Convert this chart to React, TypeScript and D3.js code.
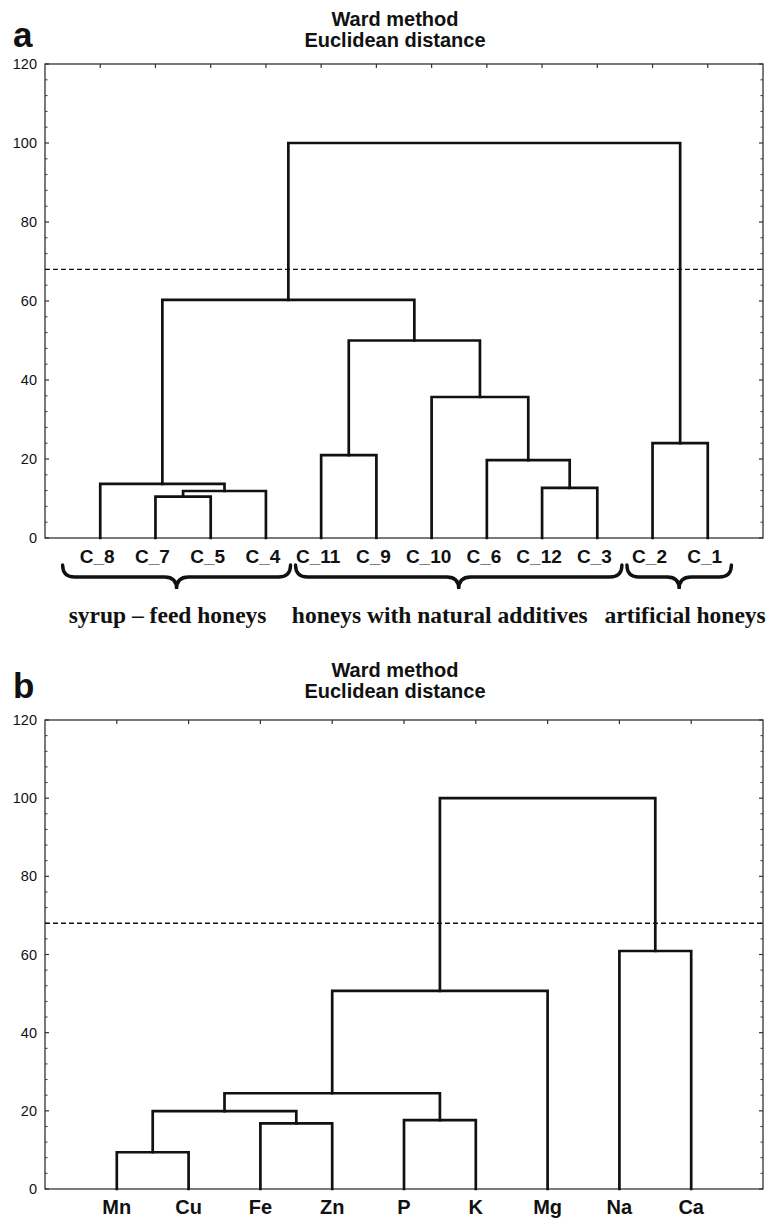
import React from 'react';
import * as d3 from 'd3';

// ---------- data ----------
const leavesA = ['C_8', 'C_7', 'C_5', 'C_4', 'C_11', 'C_9', 'C_10', 'C_6', 'C_12', 'C_3', 'C_2', 'C_1'];
// merges: [left, right, height]; 'mN' refers to the N-th merge
const mergesA: [string, string, number][] = [
  ['C_7', 'C_5', 10.5],
  ['m0', 'C_4', 11.9],
  ['C_8', 'm1', 13.7],
  ['C_12', 'C_3', 12.7],
  ['C_6', 'm3', 19.7],
  ['C_10', 'm4', 35.7],
  ['C_11', 'C_9', 21.0],
  ['m6', 'm5', 50.0],
  ['m2', 'm7', 60.3],
  ['C_2', 'C_1', 24.0],
  ['m8', 'm9', 100],
];
const groupLabelsA = ['syrup \u2013 feed honeys', 'honeys with natural additives', 'artificial honeys'];
const groupFirstA = ['C_8', 'C_11', 'C_2'];
const groupLastA = ['C_4', 'C_3', 'C_1'];

const leavesB = ['Mn', 'Cu', 'Fe', 'Zn', 'P', 'K', 'Mg', 'Na', 'Ca'];
const mergesB: [string, string, number][] = [
  ['Mn', 'Cu', 9.4],
  ['Fe', 'Zn', 16.8],
  ['P', 'K', 17.6],
  ['m0', 'm1', 19.9],
  ['m3', 'm2', 24.5],
  ['m4', 'Mg', 50.7],
  ['Na', 'Ca', 60.9],
  ['m5', 'm6', 100],
];

const yTicks = [0, 20, 40, 60, 80, 100, 120];
const cutLevel = 68;
const titleLines = ['Ward method', 'Euclidean distance'];

// ---------- layout ----------
const W = 784;
const H = 1220;
const plotLeft = 45;
const plotRight = 763;
const bracePadL = [-10, 2, 2];
const bracePadR = [3, 3, 4];
const groupTextDx = [-9, -19, 6];

type PanelProps = {
  letter: string;
  leaves: string[];
  merges: [string, string, number][];
  top: number;
  bottom: number;
  titleY: number;
  labelFont: string;
  labelSize: number;
  labelDx: number;
  labelDy: number;
  groups?: boolean;
};

function Panel(p: PanelProps) {
  const n = p.leaves.length;
  const x = d3.scaleLinear().domain([0, n + 1]).range([plotLeft, plotRight]);
  const y = d3.scaleLinear().domain([0, 120]).range([p.bottom, p.top]);
  const pos: Record<string, { x: number; h: number }> = {};
  p.leaves.forEach((l, i) => (pos[l] = { x: x(i + 1), h: 0 }));
  const segs: string[] = [];
  p.merges.forEach(([a, b, h], i) => {
    const A = pos[a];
    const B = pos[b];
    const path = d3.path();
    path.moveTo(A.x, y(A.h));
    path.lineTo(A.x, y(h));
    path.lineTo(B.x, y(h));
    path.lineTo(B.x, y(B.h));
    segs.push(path.toString());
    pos['m' + i] = { x: (A.x + B.x) / 2, h };
  });
  const minor = d3.range(0, 121, 4).filter((v) => v % 20 !== 0);
  const cx = (plotLeft + plotRight) / 2 - 9;
  const sans = "'Liberation Sans', Arial, sans-serif";

  return (
    <g>
      <text x={cx} y={p.titleY} textAnchor="middle" fontFamily={sans} fontWeight="bold" fontSize={20} fill="#111">
        {titleLines[0]}
      </text>
      <text x={cx} y={p.titleY + 21} textAnchor="middle" fontFamily={sans} fontWeight="bold" fontSize={20} fill="#111">
        {titleLines[1]}
      </text>
      <text x={13} y={p.titleY + 21} fontFamily={sans} fontWeight="bold" fontSize={35} fill="#111">
        {p.letter}
      </text>
      {/* frame */}
      <rect x={plotLeft} y={p.top} width={plotRight - plotLeft} height={p.bottom - p.top} fill="none" stroke="#333" strokeWidth={1.3} />
      {/* y ticks */}
      {yTicks.map((v) => (
        <g key={'t' + v}>
          <line x1={plotLeft} x2={plotLeft + 4} y1={y(v)} y2={y(v)} stroke="#333" strokeWidth={1.2} />
          <line x1={plotRight} x2={plotRight - 4} y1={y(v)} y2={y(v)} stroke="#333" strokeWidth={1.2} />
          <text x={plotLeft - 8} y={y(v)} dy="0.35em" textAnchor="end" fontFamily={sans} fontSize={14.5} fill="#111">
            {v}
          </text>
        </g>
      ))}
      {minor.map((v) => (
        <g key={'m' + v}>
          <line x1={plotLeft} x2={plotLeft + 2.5} y1={y(v)} y2={y(v)} stroke="#333" strokeWidth={1} />
          <line x1={plotRight} x2={plotRight - 2.5} y1={y(v)} y2={y(v)} stroke="#333" strokeWidth={1} />
        </g>
      ))}
      {/* x ticks */}
      {p.leaves.map((l, i) => (
        <g key={'x' + l}>
          <line x1={x(i + 1)} x2={x(i + 1)} y1={p.top} y2={p.top + 4} stroke="#333" strokeWidth={1.2} />
          <line x1={x(i + 1)} x2={x(i + 1)} y1={p.bottom} y2={p.bottom - 4} stroke="#333" strokeWidth={1.2} />
        </g>
      ))}
      {/* cut line */}
      <line x1={plotLeft} x2={plotRight} y1={y(cutLevel)} y2={y(cutLevel)} stroke="#111" strokeWidth={1.3} strokeDasharray="5,3" />
      {/* dendrogram */}
      {segs.map((d, i) => (
        <path key={'s' + i} d={d} fill="none" stroke="#111" strokeWidth={2.7} strokeLinejoin="miter" strokeLinecap="square" />
      ))}
      {/* leaf labels */}
      {p.leaves.map((l, i) => (
        <text key={'l' + l} x={x(i + 1) + p.labelDx} y={p.bottom + p.labelDy} textAnchor="middle" fontFamily={p.labelFont} fontWeight="bold" fontSize={p.labelSize} fill="#111">
          {l}
        </text>
      ))}
      {p.groups &&
        groupLabelsA.map((g, gi) => {
          const i0 = p.leaves.indexOf(groupFirstA[gi]) + 1;
          const i1 = p.leaves.indexOf(groupLastA[gi]) + 1;
          const x0 = x(i0 - 0.5) + bracePadL[gi];
          const x1 = x(i1 + 0.5) - bracePadR[gi];
          const xm = (x0 + x1) / 2;
          const y0 = p.bottom + 27;
          const hh = 24;
          const q = 12;
          const ym = y0 + 12;
          const d =
            `M${x0},${y0} Q${x0},${ym} ${x0 + q},${ym} L${xm - q},${ym} ` +
            `Q${xm},${ym} ${xm},${y0 + hh} Q${xm},${ym} ${xm + q},${ym} ` +
            `L${x1 - q},${ym} Q${x1},${ym} ${x1},${y0}`;
          return (
            <g key={'g' + gi}>
              <path d={d} fill="none" stroke="#111" strokeWidth={3.4} strokeLinecap="round" />
              <text x={xm + groupTextDx[gi]} y={p.bottom + 85} textAnchor="middle" fontFamily="'Liberation Serif', 'Times New Roman', serif" fontWeight="bold" fontSize={23.5} fill="#111">
                {g}
              </text>
            </g>
          );
        })}
    </g>
  );
}

export default function App() {
  return (
    <svg width={W} height={H} style={{ position: 'absolute', left: 0, top: 0, background: '#fff' }}>
      <rect width={W} height={H} fill="#fff" />
      <Panel letter="a" leaves={leavesA} merges={mergesA} top={64} bottom={538} titleY={26} labelFont="'Liberation Sans Narrow', 'Liberation Sans', Arial, sans-serif" labelSize={19} labelDx={-3} labelDy={25} groups />
      <Panel letter="b" leaves={leavesB} merges={mergesB} top={720} bottom={1189} titleY={677} labelFont="'Liberation Sans Narrow', 'Liberation Sans', Arial, sans-serif" labelSize={20} labelDx={0} labelDy={25} />
    </svg>
  );
}
